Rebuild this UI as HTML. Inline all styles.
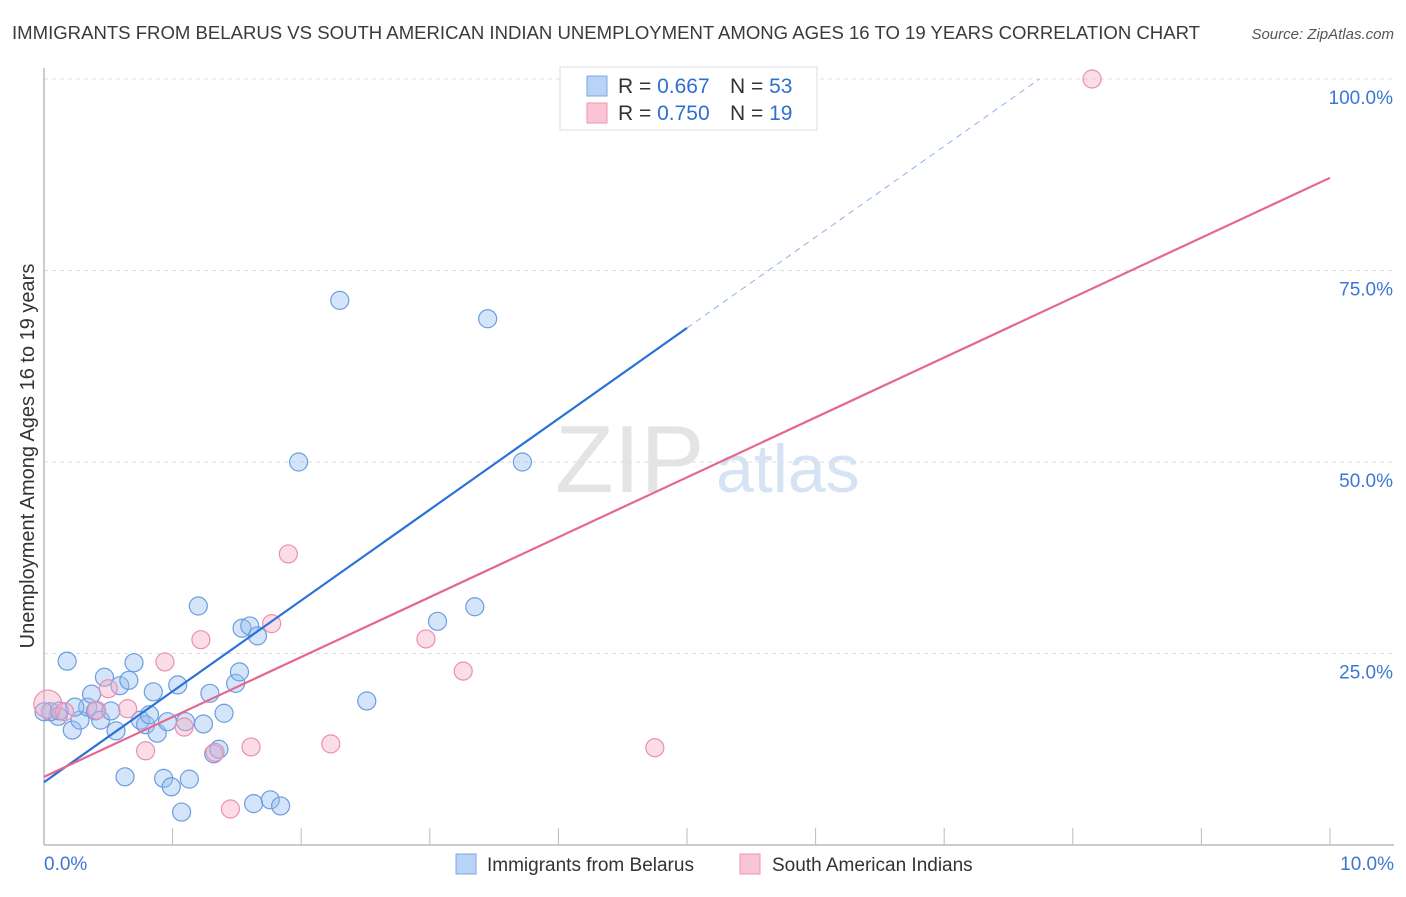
<!DOCTYPE html>
<html><head><meta charset="utf-8"><style>
body{margin:0;background:#fff;font-family:"Liberation Sans",sans-serif;}
svg text{font-family:"Liberation Sans",sans-serif;}
</style></head><body>
<svg id="chart" width="1406" height="892" xmlns="http://www.w3.org/2000/svg">
<text x="12" y="39" font-size="18" fill="#3a3a3a" textLength="1188" lengthAdjust="spacingAndGlyphs">IMMIGRANTS FROM BELARUS VS SOUTH AMERICAN INDIAN UNEMPLOYMENT AMONG AGES 16 TO 19 YEARS CORRELATION CHART</text>
<text x="1394" y="39" font-size="15" fill="#555" font-style="italic" text-anchor="end">Source: ZipAtlas.com</text>
<text x="555" y="492" font-size="96" fill="#e4e4e4" font-family="Liberation Serif">ZIP</text>
<text x="716" y="492" font-size="68" fill="#d6e3f5">atlas</text>
<g id="grid"></g><g id="marks"></g>
<text transform="translate(34,456) rotate(-90)" font-size="20" fill="#333" text-anchor="middle">Unemployment Among Ages 16 to 19 years</text>
<g>
<rect x="560" y="67" width="257" height="63" fill="#fff" stroke="#ddd"/>
<rect x="587" y="76" width="20" height="20" fill="#b9d3f5" stroke="#7aa7e6"/>
<rect x="587" y="103" width="20" height="20" fill="#f9c5d5" stroke="#ee97b3"/>
<text x="618" y="93" font-size="21" fill="#333">R = <tspan fill="#2f6fd1">0.667</tspan></text>
<text x="730" y="93" font-size="21" fill="#333">N = <tspan fill="#2f6fd1">53</tspan></text>
<text x="618" y="120" font-size="21" fill="#333">R = <tspan fill="#2f6fd1">0.750</tspan></text>
<text x="730" y="120" font-size="21" fill="#333">N = <tspan fill="#2f6fd1"> 19</tspan></text>
</g>
<g>
<rect x="456" y="854" width="20" height="20" fill="#b9d3f5" stroke="#7aa7e6"/>
<text x="487" y="871" font-size="19" fill="#333">Immigrants from Belarus</text>
<rect x="740" y="854" width="20" height="20" fill="#f9c5d5" stroke="#ee97b3"/>
<text x="772" y="871" font-size="19" fill="#333">South American Indians</text>
</g>
</svg>
<script>
const blueX=[0.18,0.11,0.05,0.22,0.28,0.34,0.37,0.40,0.44,0.47,0.52,0.56,0.59,0.63,0.66,0.70,0.75,0.79,0.85,0.88,0.93,0.96,0.99,1.04,1.07,1.10,1.13,1.20,1.24,1.29,1.32,1.36,1.40,1.49,1.52,1.54,1.60,1.63,1.66,1.76,1.84,1.98,2.30,2.51,3.06,3.35,3.45,3.72,4.15,0,0.12,0.24,0.82];
const blueY=[24.0,16.8,17.4,15.0,16.3,18.0,19.7,17.5,16.3,21.9,17.5,14.9,20.8,8.9,21.5,23.8,16.3,15.7,20.0,14.6,8.7,16.1,7.6,20.9,4.3,16.1,8.6,31.2,15.8,19.8,11.9,12.5,17.2,21.1,22.6,28.3,28.6,5.4,27.3,5.9,5.1,50,71.1,18.8,29.2,31.1,68.7,50,100,17.4,17.5,18.0,17.0];
const pinkX=[0.03,0.16,0.50,0.65,0.79,0.94,1.09,1.22,1.33,1.45,1.61,1.77,1.90,2.23,2.97,3.26,4.75,8.15,0.41];
const pinkY=[18.4,17.4,20.4,17.8,12.3,23.9,15.4,26.8,12.1,4.7,12.8,28.9,38.0,13.2,26.9,22.7,12.7,100,17.6];
const blueLine=[8.2,67.5]; // y at x=0 and x=5
const pinkLine=[8.9,87.1]; // y at x=0 and x=10
const yTicks=[25,50,75,100];
const yTickLabels=["25.0%","50.0%","75.0%","100.0%"];
const NS="http://www.w3.org/2000/svg";
const sx=v=>44+v*128.6, sy=v=>845-v*7.66;
const grid=document.getElementById('grid'), marks=document.getElementById('marks');
function mk(tag,at,parent){const e=document.createElementNS(NS,tag);for(const k in at)e.setAttribute(k,at[k]);parent.appendChild(e);return e;}
yTicks.forEach((t,i)=>{
 const l=mk('line',{x1:44,x2:1394,y1:sy(t),y2:sy(t),stroke:'#ddd','stroke-dasharray':'4,4'},grid);
 
 
 const tx=mk('text',{x:1393,y:sy(t)+25,'font-size':19,fill:'#3a78d4','text-anchor':'end'},grid);
 tx.textContent=yTickLabels[i];
 
 
});
const ax=mk('line',{x1:44,x2:44,y1:68,y2:845,stroke:'#999'},grid);


const bx=mk('line',{x1:44,x2:1394,y1:845,y2:845,stroke:'#999'},grid);


for(let i=1;i<=10;i++){const t=mk('line',{x1:sx(i),x2:sx(i),y1:828,y2:845,stroke:'#bbb'},grid);
 
 }
[["0.0%",44,'start'],["10.0%",1394,'end']].forEach(a=>{const t=mk('text',{x:a[1],y:870,'font-size':19,fill:'#3a78d4','text-anchor':a[2]},grid);t.textContent=a[0];
 
 });
blueX.forEach((x,i)=>{const c=mk('circle',{cx:sx(x),cy:sy(blueY[i]),r:9,fill:'rgba(150,190,240,0.4)',stroke:'#6b9de0','stroke-width':1.2},marks);
 
 });
pinkX.forEach((x,i)=>{const c=mk('circle',{cx:sx(x),cy:sy(pinkY[i]),r:i==0?14:9,fill:'rgba(245,170,195,0.4)',stroke:'#ec8fae','stroke-width':1.2},marks);
 
 });
const bs=(blueLine[1]-blueLine[0])/5;
const b1=mk('line',{x1:sx(0),y1:sy(blueLine[0]),x2:sx(5),y2:sy(blueLine[1]),stroke:'#2a72d8','stroke-width':2.2},marks);


const xe=(100-blueLine[0])/bs;
const b2=mk('line',{x1:sx(5),y1:sy(blueLine[1]),x2:sx(xe),y2:sy(100),stroke:'#8fb2e6','stroke-width':1,'stroke-dasharray':'6,5'},marks);


const p1=mk('line',{x1:sx(0),y1:sy(pinkLine[0]),x2:sx(10),y2:sy(pinkLine[1]),stroke:'#e5678f','stroke-width':2.2},marks);


</script>
</body></html>
